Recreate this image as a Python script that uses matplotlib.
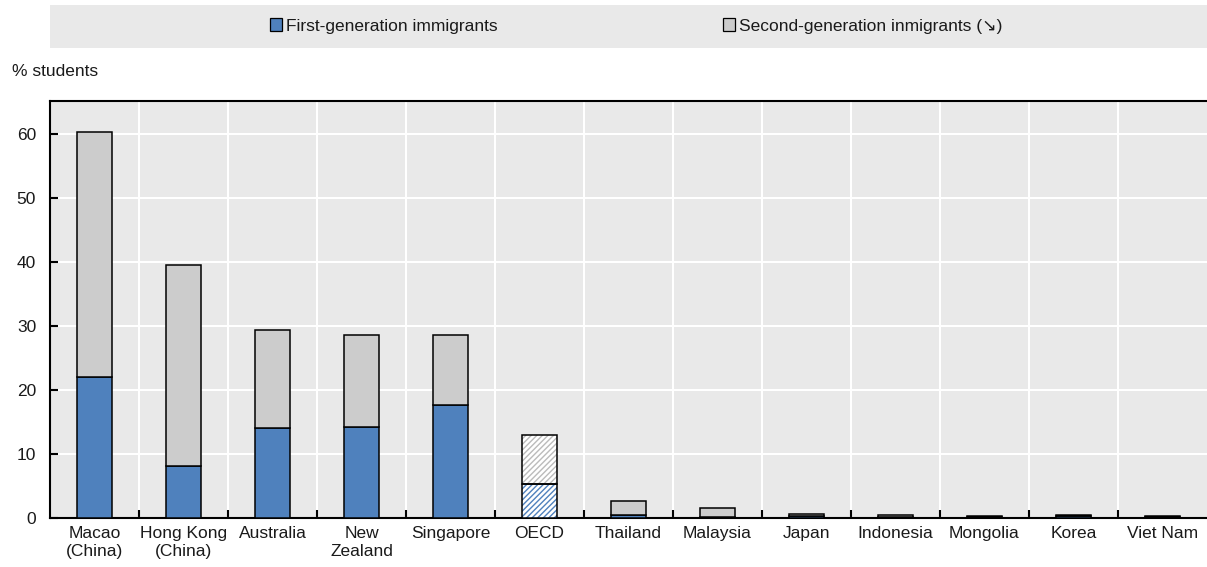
import matplotlib.pyplot as plt
import matplotlib.patches as mpatches
import numpy as np

plt.rcParams['font.family'] = ['Liberation Sans', 'DejaVu Sans']

countries = ['Macao\n(China)', 'Hong Kong\n(China)', 'Australia', 'New\nZealand', 'Singapore',
             'OECD', 'Thailand', 'Malaysia', 'Japan', 'Indonesia', 'Mongolia', 'Korea', 'Viet Nam']
first_gen = [22.0, 8.1, 14.0, 14.3, 17.6, 5.3, 0.4, 0.1, 0.3, 0.1, 0.1, 0.3, 0.1]
second_gen = [38.3, 31.5, 15.4, 14.3, 11.0, 7.7, 2.2, 1.4, 0.4, 0.4, 0.2, 0.2, 0.2]
oecd_idx = 5

blue = '#4F81BD'
grey = '#CCCCCC'
bg = '#E9E9E9'
txt = '#1a1a1a'

fig = plt.figure(figsize=(12.07, 5.67), dpi=100)
ax = fig.add_axes([50 / 1207, 49 / 567, 1157 / 1207, 417 / 567])
ax.set_facecolor(bg)

x = np.arange(len(countries))
w = 0.4
lw = 1.1
for i in x:
    f, s = first_gen[i], second_gen[i]
    if i == oecd_idx:
        ax.bar(i, f, w, color='white', edgecolor=blue, hatch='//////', linewidth=0, zorder=3)
        ax.bar(i, s, w, bottom=f, color='white', edgecolor='#BBBBBB', hatch='//////', linewidth=0, zorder=3)
        ax.bar(i, f, w, fill=False, edgecolor='black', linewidth=lw, zorder=4)
        ax.bar(i, s, w, bottom=f, fill=False, edgecolor='black', linewidth=lw, zorder=4)
    else:
        ax.bar(i, f, w, color=blue, edgecolor='black', linewidth=lw, zorder=3)
        ax.bar(i, s, w, bottom=f, color=grey, edgecolor='black', linewidth=lw, zorder=3)

ax.set_xlim(-0.5, len(countries) - 0.5)
ax.set_ylim(0, 65.2)
ax.set_yticks(range(0, 61, 10))
ax.set_xticks(x)
ax.set_xticklabels(countries, fontsize=12.5, color=txt)
ax.set_xticks(np.arange(0.5, len(countries) - 0.5), minor=True)
ax.tick_params(axis='x', which='major', length=0, pad=6)
ax.tick_params(axis='x', which='minor', direction='in', length=6, width=1.5)
ax.tick_params(axis='y', direction='in', length=6, width=1.5, labelsize=12.5, labelcolor=txt, pad=10)
ax.grid(axis='y', color='white', linewidth=1.5, zorder=0)
ax.grid(axis='x', which='minor', color='white', linewidth=1.5, zorder=0)
ax.set_axisbelow(True)
for side in ['left', 'bottom', 'top']:
    ax.spines[side].set_linewidth(1.5)
    ax.spines[side].set_color('black')
ax.spines['right'].set_visible(False)

fig.text(12 / 1207, 1 - 72 / 567, '% students', fontsize=12.5, va='center', ha='left', color=txt)

# legend band
fig.patches.append(mpatches.Rectangle((50 / 1207, 1 - 48 / 567), 1157 / 1207, 43 / 567,
                                      transform=fig.transFigure, facecolor=bg, edgecolor='none', zorder=0))
handles = [mpatches.Patch(facecolor=blue, edgecolor='black', linewidth=0.9),
           mpatches.Patch(facecolor=grey, edgecolor='black', linewidth=0.9)]
fig.legend(handles, ['First-generation immigrants', 'Second-generation inmigrants (\u2198)'],
           loc='center', bbox_to_anchor=(636 / 1207, 1 - 26 / 567), ncol=2, frameon=False,
           fontsize=12.5, handlelength=0.7, handleheight=0.7, handletextpad=0.2,
           columnspacing=13, labelcolor=txt)

fig.savefig('out.png', dpi=100)
